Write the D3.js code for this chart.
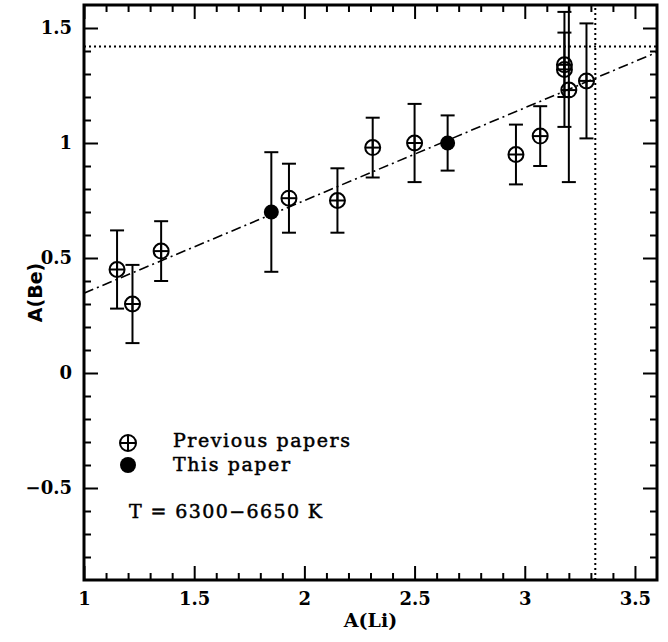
<!DOCTYPE html>
<html lang="en">
<head>
<meta charset="UTF-8">
<title>A(Be) vs A(Li)</title>
<script src="https://cdn.jsdelivr.net/npm/d3@7/dist/d3.min.js"></script>
<style>
  body { margin: 0; background: #fff; }
  svg { display: block; }
</style>
</head>
<body>
<svg id="chart"></svg>
<script>
// data
const aLi    = [1.15, 1.22, 1.35, 1.85, 1.93, 2.15, 2.31, 2.50, 2.65, 2.96, 3.07, 3.18, 3.18, 3.20, 3.28];
const aBe    = [0.45, 0.30, 0.53, 0.70, 0.76, 0.75, 0.98, 1.00, 1.00, 0.95, 1.03, 1.32, 1.34, 1.23, 1.27];
const beErr  = [0.17, 0.17, 0.13, 0.26, 0.15, 0.14, 0.13, 0.17, 0.12, 0.13, 0.13, 0.25, 0.14, 0.40, 0.25];
const source = ["prev", "prev", "prev", "this", "prev", "prev", "prev", "prev", "this", "prev", "prev", "prev", "prev", "prev", "prev"];

const fitSlope = 0.403, fitIntercept = -0.056;   // dash-dot fit
const meteoriticLi = 3.32, meteoriticBe = 1.42;  // dotted lines

const xMajor = [1, 1.5, 2, 2.5, 3, 3.5];
const xLabels = ["1", "1.5", "2", "2.5", "3", "3.5"];
const yMajor = [-0.5, 0, 0.5, 1, 1.5];
const yLabels = ["\u22120.5", "0", "0.5", "1", "1.5"];

const legendLabels = ["Previous papers", "This paper"];
const tempLabel = "T = 6300\u22126650 K";

const width = 668, height = 642;
const pLeft = 84, pRight = 657, pTop = 5, pBottom = 580;

const svg = d3.select("#chart").attr("width", width).attr("height", height);

const x = d3.scaleLinear().domain([1, 3.6]).range([pLeft, pRight]);
const y = d3.scaleLinear().domain([-0.9, 1.6]).range([pBottom, pTop]);

const xMinor = d3.range(11, 36).map(d => d / 10).filter(d => !xMajor.some(m => Math.abs(m - d) < 1e-6));
const yMinor = d3.range(-8, 16).map(d => d / 10).filter(d => !yMajor.some(m => Math.abs(m - d) < 1e-6));

const tickFont = "bold 18px 'DejaVu Serif'";

function addAxis(gen, tr, values, size, labels) {
  const a = gen.tickValues(values).tickSizeInner(-size).tickSizeOuter(0);
  if (labels) a.tickFormat((d, i) => labels[i]); else a.tickFormat("");
  const g = svg.append("g").attr("transform", tr).call(a);
  g.select(".domain").remove();
  g.selectAll("line").attr("stroke", "#000").attr("stroke-width", 2);
  g.selectAll("text").style("font", tickFont).attr("fill", "#000");
  return g;
}

// bottom / left with labels
addAxis(d3.axisBottom(x).tickPadding(12), `translate(0,${pBottom})`, xMajor, 14, xLabels);
addAxis(d3.axisBottom(x), `translate(0,${pBottom})`, xMinor, 7);
addAxis(d3.axisLeft(y).tickPadding(12), `translate(${pLeft},0)`, yMajor, 14, yLabels);
addAxis(d3.axisLeft(y), `translate(${pLeft},0)`, yMinor, 7);
// mirrored top / right
addAxis(d3.axisTop(x), `translate(0,${pTop})`, xMajor, 14);
addAxis(d3.axisTop(x), `translate(0,${pTop})`, xMinor, 7);
addAxis(d3.axisRight(y), `translate(${pRight},0)`, yMajor, 14);
addAxis(d3.axisRight(y), `translate(${pRight},0)`, yMinor, 7);

svg.append("clipPath").attr("id", "plot")
  .append("rect").attr("x", pLeft).attr("y", pTop).attr("width", pRight - pLeft).attr("height", pBottom - pTop);

const plot = svg.append("g").attr("clip-path", "url(#plot)");

// dotted reference lines
plot.append("line")
  .attr("x1", x(1)).attr("x2", x(3.6)).attr("y1", y(meteoriticBe)).attr("y2", y(meteoriticBe))
  .attr("stroke", "#000").attr("stroke-width", 2).attr("stroke-dasharray", "2,3");
plot.append("line")
  .attr("x1", x(meteoriticLi)).attr("x2", x(meteoriticLi)).attr("y1", y(-0.9)).attr("y2", y(1.6))
  .attr("stroke", "#000").attr("stroke-width", 2).attr("stroke-dasharray", "2,3");

// dash-dot fit
plot.append("line")
  .attr("x1", x(1)).attr("y1", y(fitSlope * 1 + fitIntercept))
  .attr("x2", x(3.6)).attr("y2", y(fitSlope * 3.6 + fitIntercept))
  .attr("stroke", "#000").attr("stroke-width", 1.6).attr("stroke-dasharray", "10,4,2,4");

const pts = aLi.map((v, i) => ({x: v, y: aBe[i], e: beErr[i], s: source[i]}));
const r = 7.5, cap = 7;

const bars = plot.append("g").attr("stroke", "#000").attr("stroke-width", 2);
pts.forEach(p => {
  bars.append("line").attr("x1", x(p.x)).attr("x2", x(p.x)).attr("y1", y(p.y - p.e)).attr("y2", y(p.y + p.e));
  [p.y - p.e, p.y + p.e].forEach(v => {
    bars.append("line").attr("x1", x(p.x) - cap).attr("x2", x(p.x) + cap).attr("y1", y(v)).attr("y2", y(v));
  });
});

function oplus(g, cx, cy, rad) {
  g.append("circle").attr("cx", cx).attr("cy", cy).attr("r", rad)
    .attr("fill", "none").attr("stroke", "#000").attr("stroke-width", 2);
  g.append("line").attr("x1", cx - rad).attr("x2", cx + rad).attr("y1", cy).attr("y2", cy)
    .attr("stroke", "#000").attr("stroke-width", 2);
  g.append("line").attr("x1", cx).attr("x2", cx).attr("y1", cy - rad).attr("y2", cy + rad)
    .attr("stroke", "#000").attr("stroke-width", 2);
}

const marks = plot.append("g");
pts.forEach(p => {
  if (p.s === "this") {
    marks.append("circle").attr("cx", x(p.x)).attr("cy", y(p.y)).attr("r", r).attr("fill", "#000");
  } else {
    oplus(marks, x(p.x), y(p.y), r);
  }
});

// frame
svg.append("rect").attr("x", pLeft).attr("y", pTop).attr("width", pRight - pLeft).attr("height", pBottom - pTop)
  .attr("fill", "none").attr("stroke", "#000").attr("stroke-width", 3);

// axis titles
svg.append("text").attr("x", (pLeft + pRight) / 2).attr("y", 627).attr("text-anchor", "middle")
  .style("font", "bold 19px 'DejaVu Serif'").text("A(Li)");
svg.append("text").attr("transform", `translate(42,${(pTop + pBottom) / 2}) rotate(-90)`)
  .attr("text-anchor", "middle").style("font", "bold 19px 'DejaVu Sans'").text("A(Be)");

// legend
const legFont = "19px 'DejaVu Serif'";
const leg = svg.append("g");
oplus(leg, 128, 443, 8);
leg.append("circle").attr("cx", 128).attr("cy", 465).attr("r", 8).attr("fill", "#000");
leg.selectAll("text.lab")
  .data([
    {t: legendLabels[0], x: 173, y: 447, w: 177},
    {t: legendLabels[1], x: 173, y: 470.5, w: 117},
    {t: tempLabel, x: 129, y: 518, w: 193}
  ])
  .enter().append("text")
  .attr("x", d => d.x).attr("y", d => d.y)
  .attr("textLength", d => d.w).attr("lengthAdjust", "spacing")
  .attr("stroke", "#000").attr("stroke-width", 0.5)
  .style("font", legFont)
  .text(d => d.t);
</script>
</body>
</html>
